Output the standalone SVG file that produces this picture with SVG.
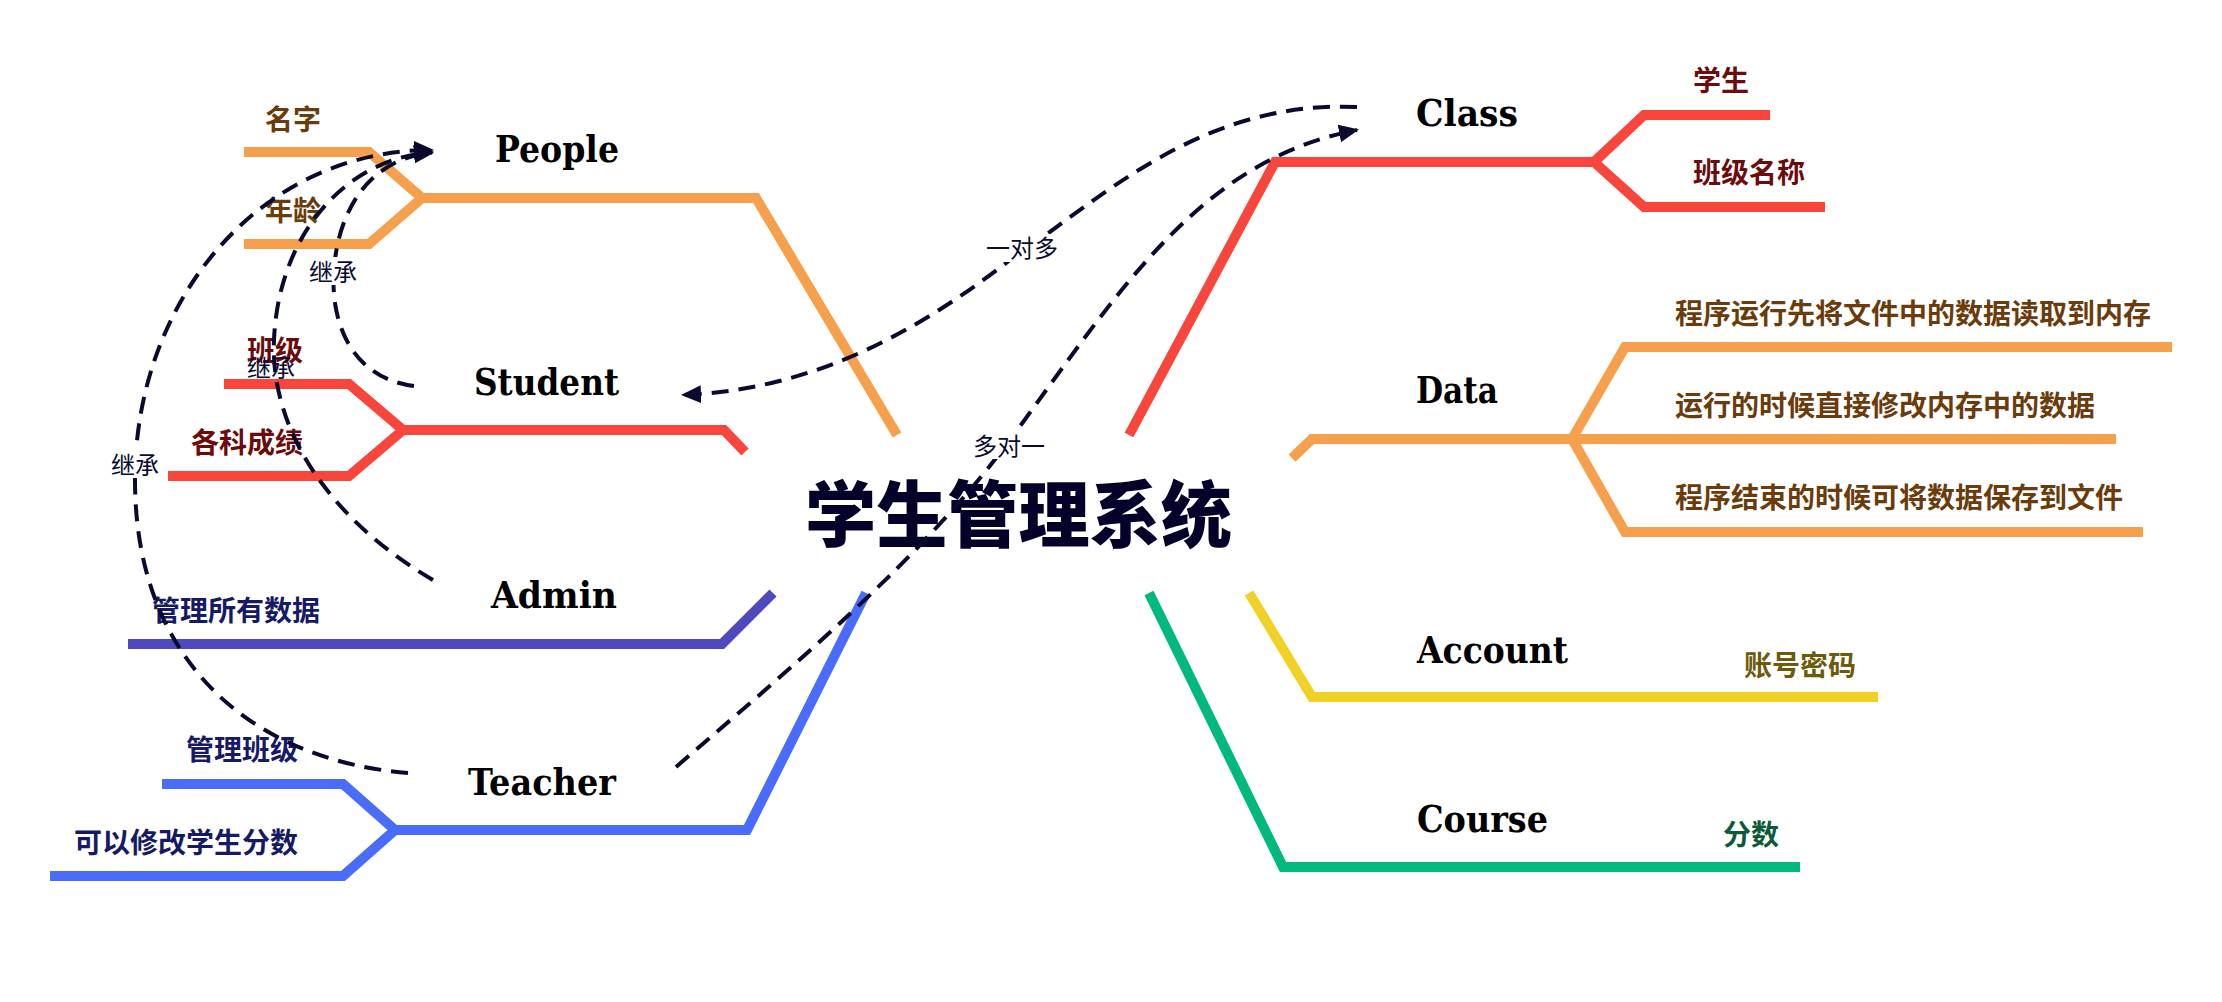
<svg xmlns="http://www.w3.org/2000/svg" width="2222" height="1002" viewBox="0 0 2222 1002">
<defs>
<style>
.br{fill:none;stroke-width:10;stroke-linejoin:miter;stroke-linecap:butt}
.or{stroke:#F6A04D}.rd{stroke:#F9463D}.pu{stroke:#4E4ABE}.bl{stroke:#4A6CFB}.ye{stroke:#F2D126}.gr{stroke:#01B97C}
.nm{font-family:"DejaVu Serif","Liberation Serif",serif;font-weight:900;font-size:37px;fill:#000}
.lb{font-family:"Noto Sans CJK SC","Noto Sans",sans-serif;font-weight:bold;font-size:28px}
.brown{fill:#6B3B0B}.dred{fill:#6B0B0B}.navy{fill:#161A66}.olive{fill:#6B5B0B}.dgreen{fill:#0B5B3B}
.cn{fill:none;stroke:#0A0A30;stroke-width:4;stroke-dasharray:17 10}
.cl{font-family:"Noto Sans CJK SC","Noto Sans",sans-serif;font-size:24px;fill:#0A0A30}
.bg{fill:#fff}
.title{font-family:"Noto Sans CJK SC",sans-serif;font-weight:900;font-size:72px;fill:#03002A}
</style>
<marker id="ah" markerUnits="userSpaceOnUse" markerWidth="22" markerHeight="18" refX="18" refY="9" orient="auto">
<path d="M0,0 L20,9 L0,18 Z" fill="#0A0A30"/>
</marker>
</defs>
<rect width="2222" height="1002" fill="#fff"/>

<g id="people">
<polyline class="br or" points="897,435 756,198 422,198"/>
<polyline class="br or" points="244,152 369,152 422,198 369,244 244,244"/>
<text class="nm" x="495" y="162" textLength="124" lengthAdjust="spacingAndGlyphs">People</text>
<text class="lb brown" x="265" y="130">名字</text>
<text class="lb brown" x="265" y="221">年龄</text>
</g>

<g id="student">
<polyline class="br rd" points="745,452 724,430 403,430"/>
<polyline class="br rd" points="224,384 349,384 403,430 349,476 168,476"/>
<text class="nm" x="474" y="395" textLength="145" lengthAdjust="spacingAndGlyphs">Student</text>
<text class="lb dred" x="247" y="361">班级</text>
<text class="lb dred" x="191" y="453">各科成绩</text>
</g>

<g id="admin">
<polyline class="br pu" points="773,593 722,644 128,644"/>
<text class="nm" x="491" y="608" textLength="126" lengthAdjust="spacingAndGlyphs">Admin</text>
<text class="lb navy" x="152" y="621">管理所有数据</text>
</g>

<g id="teacher">
<polyline class="br bl" points="866,593 747,830 395,830"/>
<polyline class="br bl" points="162,784 343,784 395,830 343,876 50,876"/>
<text class="nm" x="468" y="795" textLength="148" lengthAdjust="spacingAndGlyphs">Teacher</text>
<text class="lb navy" x="186" y="760">管理班级</text>
<text class="lb navy" x="74" y="853">可以修改学生分数</text>
</g>

<g id="class">
<polyline class="br rd" points="1129,435 1275,162 1594,162"/>
<polyline class="br rd" points="1770,115 1644,115 1594,162 1644,207 1825,207"/>
<text class="nm" x="1416" y="126" textLength="102" lengthAdjust="spacingAndGlyphs">Class</text>
<text class="lb dred" x="1693" y="91">学生</text>
<text class="lb dred" x="1693" y="183">班级名称</text>
</g>

<g id="data">
<polyline class="br or" points="1292,458 1312,439 2116,439"/>
<polyline class="br or" points="2172,347 1625,347 1572,439 1625,532 2143,532"/>
<text class="nm" x="1416" y="403" textLength="82" lengthAdjust="spacingAndGlyphs">Data</text>
<text class="lb brown" x="1675" y="324">程序运行先将文件中的数据读取到内存</text>
<text class="lb brown" x="1675" y="416">运行的时候直接修改内存中的数据</text>
<text class="lb brown" x="1675" y="508">程序结束的时候可将数据保存到文件</text>
</g>

<g id="account">
<polyline class="br ye" points="1249,593 1312,697 1878,697"/>
<text class="nm" x="1417" y="663" textLength="151" lengthAdjust="spacingAndGlyphs">Account</text>
<text class="lb olive" x="1744" y="676">账号密码</text>
</g>

<g id="course">
<polyline class="br gr" points="1149,593 1283,867 1800,867"/>
<text class="nm" x="1417" y="832" textLength="131" lengthAdjust="spacingAndGlyphs">Course</text>
<text class="lb dgreen" x="1723" y="845">分数</text>
</g>

<g id="center">
<text class="title" x="805" y="541" textLength="427" lengthAdjust="spacingAndGlyphs">学生管理系统</text>
</g>

<g id="connectors">
<path class="cn" d="M414,386 C350,378 330,320 334,270 C338,210 370,158 432,153" marker-end="url(#ah)"/>
<path class="cn" d="M433,580 C330,520 270,430 274,340 C278,240 340,160 432,152" marker-end="url(#ah)"/>
<path class="cn" d="M408,773 C250,760 135,660 135,480 C135,300 260,150 432,150" marker-end="url(#ah)"/>
<path class="cn" d="M1357,107 C1200,100 1100,200 1010,260 C900,345 800,390 683,395" marker-end="url(#ah)"/>
<path class="cn" d="M676,767 C800,660 920,560 1010,440 C1120,290 1200,160 1357,130" marker-end="url(#ah)"/>
<rect class="bg" x="307" y="257" width="55" height="28"/>
<text class="cl" x="309" y="281">继承</text>
<text class="cl" x="247" y="377">继承</text>
<rect class="bg" x="109" y="450" width="56" height="28"/>
<text class="cl" x="111" y="474">继承</text>
<rect class="bg" x="984" y="234" width="80" height="28"/>
<text class="cl" x="986" y="257">一对多</text>
<rect class="bg" x="971" y="431" width="80" height="28"/>
<text class="cl" x="973" y="455">多对一</text>
</g>
</svg>
